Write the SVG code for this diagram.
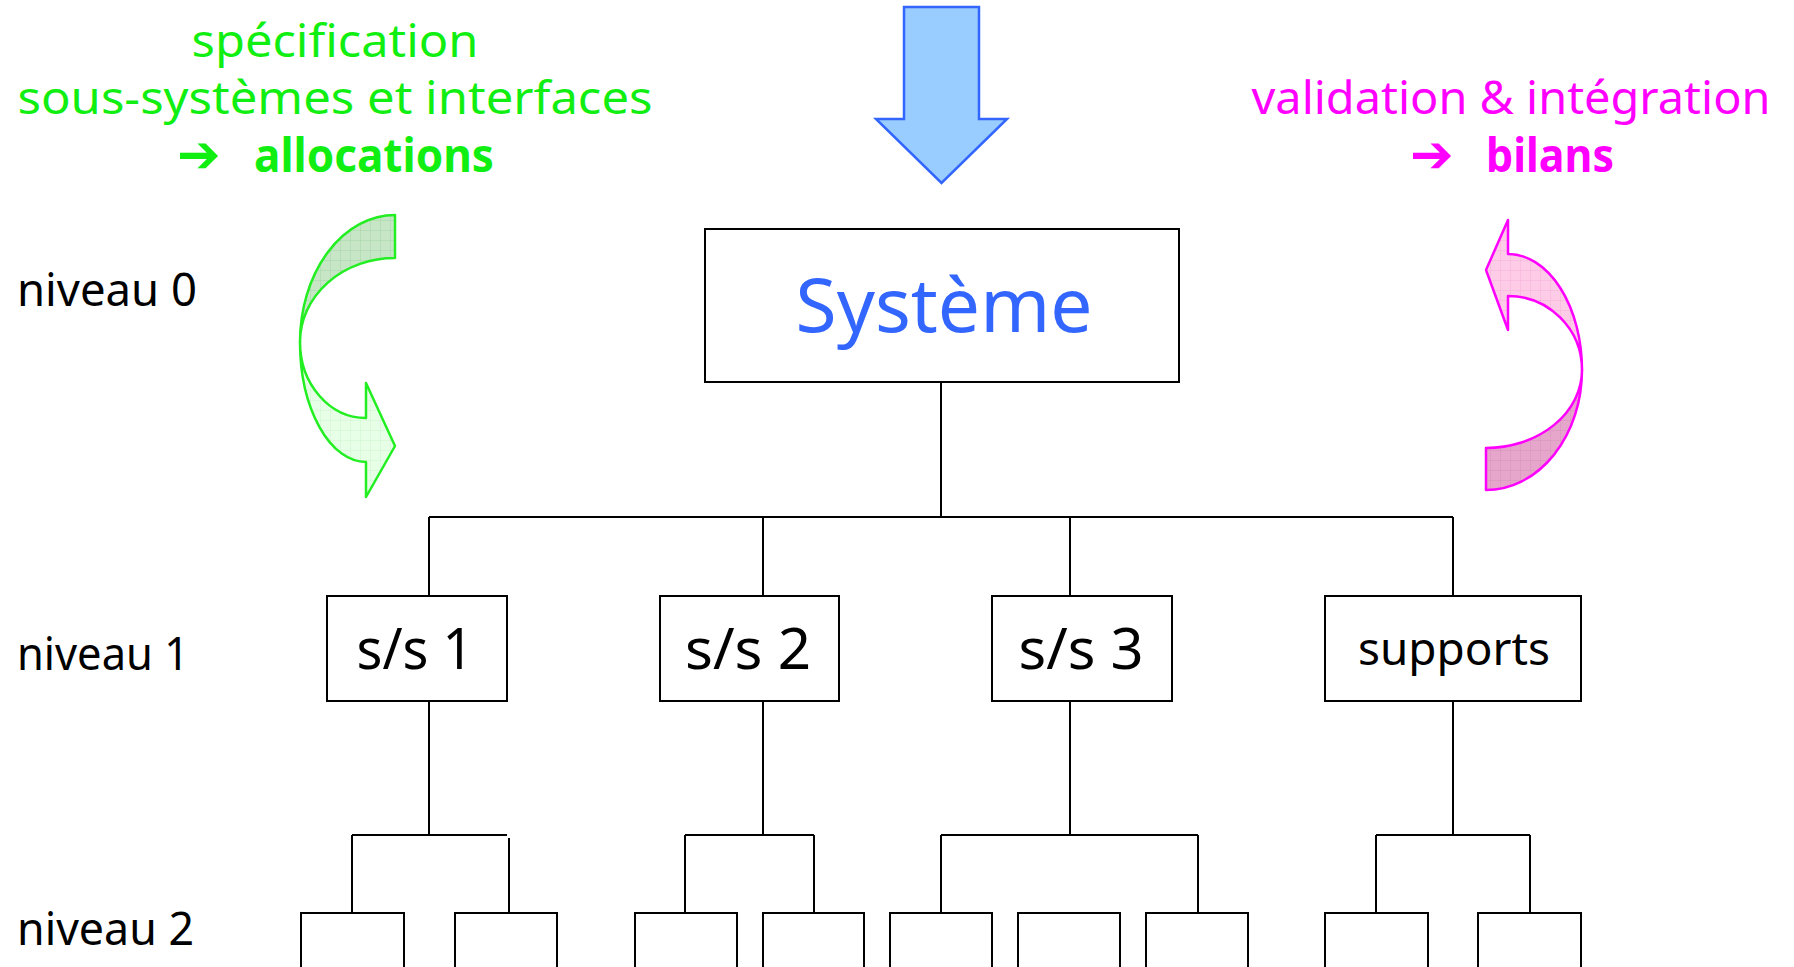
<svg xmlns="http://www.w3.org/2000/svg" width="1794" height="967" viewBox="0 0 1794 967">
<defs>
<style>
.box{fill:#fff;stroke:#000;stroke-width:2}
.ln{fill:none;stroke:#000;stroke-width:2}
.t{font-family:"Noto Sans","DejaVu Sans",sans-serif}
.lvl{font-size:46px;fill:#000}
.ss{font-size:56px;fill:#000;text-anchor:middle}
.g{fill:#11ee11}
.m{fill:#ff00ff}
.top{font-size:46px}
.arr{font-family:"DejaVu Sans",sans-serif;font-size:52px;font-weight:bold}
</style>
<pattern id="gridG1" width="10" height="10" patternUnits="userSpaceOnUse">
<rect width="10" height="10" fill="#c6e6c6"/>
<path d="M0,0H10M0,0V10" stroke="#a8d4a8" stroke-width="1"/>
</pattern>
<pattern id="gridG2" width="10" height="10" patternUnits="userSpaceOnUse">
<rect width="10" height="10" fill="#e6ffe6"/>
<path d="M0,0H10M0,0V10" stroke="#d0f4d0" stroke-width="1"/>
</pattern>
<pattern id="gridM1" width="10" height="10" patternUnits="userSpaceOnUse">
<rect width="10" height="10" fill="#ffcce8"/>
<path d="M0,0H10M0,0V10" stroke="#f4b0d8" stroke-width="1"/>
</pattern>
<pattern id="gridM2" width="10" height="10" patternUnits="userSpaceOnUse">
<rect width="10" height="10" fill="#e6a6cc"/>
<path d="M0,0H10M0,0V10" stroke="#d690bc" stroke-width="1"/>
</pattern>
</defs>
<rect width="1794" height="967" fill="#fff"/>

<g id="top-arrow">
<path d="M904,7 H979 V119 H1007 L941.5,183 L876,119 H904 Z" fill="#99ccff" stroke="#3366ff" stroke-width="2.5"/>
</g>

<g id="spec-text" class="t">
<text class="g top" x="335" y="57" text-anchor="middle" textLength="287" lengthAdjust="spacingAndGlyphs">spécification</text>
<text class="g top" x="335" y="114" text-anchor="middle" textLength="635" lengthAdjust="spacingAndGlyphs">sous-systèmes et interfaces</text>
<text class="g arr" x="177" y="172">➔</text>
<text class="g top" x="254" y="172" font-weight="bold" textLength="240" lengthAdjust="spacingAndGlyphs">allocations</text>
</g>

<g id="valid-text" class="t">
<text class="m top" x="1511" y="114" text-anchor="middle" textLength="519" lengthAdjust="spacingAndGlyphs">validation &amp; intégration</text>
<text class="m arr" x="1410" y="172">➔</text>
<text class="m top" x="1486" y="172" font-weight="bold" textLength="128" lengthAdjust="spacingAndGlyphs">bilans</text>
</g>

<g id="green-curved-arrow" stroke="#22ee22" stroke-width="2.5" stroke-linejoin="round">
<path d="M395,215 A95,127 0 0 0 300,342 A95,84 0 0 1 395,258 Z" fill="url(#gridG1)"/>
<path d="M300,342 A66,120 0 0 0 366,462 L366,497 L395,446 L366,383 L366,418 A66,76 0 0 1 300,342 Z" fill="url(#gridG2)"/>
</g>

<g id="magenta-curved-arrow" stroke="#ff00ff" stroke-width="2.5" stroke-linejoin="round">
<path d="M1582,370 A96,120 0 0 1 1486,490 L1486,448 A96,78 0 0 0 1582,370 Z" fill="url(#gridM2)"/>
<path d="M1486,270 L1508,220 L1508,254 A74,116 0 0 1 1582,370 A74,74 0 0 0 1508,296 L1508,330 Z" fill="url(#gridM1)"/>
</g>

<g id="labels" class="t lvl">
<text x="17" y="306" textLength="180" lengthAdjust="spacingAndGlyphs">niveau 0</text>
<text x="17" y="670" textLength="172" lengthAdjust="spacingAndGlyphs">niveau 1</text>
<text x="17" y="945" textLength="177" lengthAdjust="spacingAndGlyphs">niveau 2</text>
</g>

<g id="connectors" class="ln">
<path d="M941,382 V517 M429,517 H1453 M429,517 V596 M763,517 V596 M1070,517 V596 M1453,517 V596"/>
<path d="M429,701 V835 M352,835 H507 M352,835 V913 M509,838 V916"/>
<path d="M763,701 V835 M685,835 H814 M685,835 V913 M814,835 V913"/>
<path d="M1070,701 V835 M941,835 H1198 M941,835 V913 M1198,835 V913"/>
<path d="M1453,701 V835 M1376,835 H1530 M1376,835 V913 M1530,835 V913"/>
</g>

<g id="systeme">
<rect class="box" x="705" y="229" width="474" height="153"/>
<text class="t" x="944" y="332" text-anchor="middle" font-size="75" fill="#3366ff" textLength="297" lengthAdjust="spacingAndGlyphs">Système</text>
</g>

<g id="ss1">
<rect class="box" x="327" y="596" width="180" height="105"/>
<text class="t ss" x="415" y="669" textLength="117" lengthAdjust="spacingAndGlyphs">s/s 1</text>
</g>
<g id="ss2">
<rect class="box" x="660" y="596" width="179" height="105"/>
<text class="t ss" x="748" y="669" textLength="126" lengthAdjust="spacingAndGlyphs">s/s 2</text>
</g>
<g id="ss3">
<rect class="box" x="992" y="596" width="180" height="105"/>
<text class="t ss" x="1081" y="669" textLength="125" lengthAdjust="spacingAndGlyphs">s/s 3</text>
</g>
<g id="supports">
<rect class="box" x="1325" y="596" width="256" height="105"/>
<text class="t" x="1454" y="665" text-anchor="middle" font-size="46" textLength="192" lengthAdjust="spacingAndGlyphs">supports</text>
</g>

<g id="n2-1"><rect class="box" x="301" y="913" width="103" height="80"/></g>
<g id="n2-2"><rect class="box" x="455" y="913" width="102" height="80"/></g>
<g id="n2-3"><rect class="box" x="635" y="913" width="102" height="80"/></g>
<g id="n2-4"><rect class="box" x="763" y="913" width="101" height="80"/></g>
<g id="n2-5"><rect class="box" x="890" y="913" width="102" height="80"/></g>
<g id="n2-6"><rect class="box" x="1018" y="913" width="102" height="80"/></g>
<g id="n2-7"><rect class="box" x="1146" y="913" width="102" height="80"/></g>
<g id="n2-8"><rect class="box" x="1325" y="913" width="103" height="80"/></g>
<g id="n2-9"><rect class="box" x="1478" y="913" width="103" height="80"/></g>
</svg>
